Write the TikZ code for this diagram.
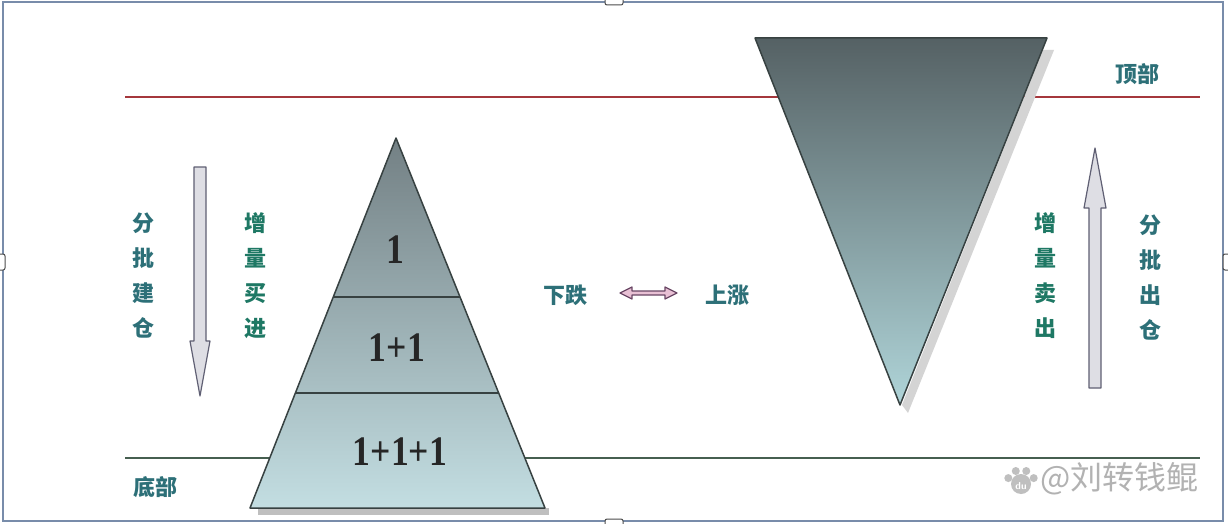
\documentclass[tikz,border=0pt]{standalone}
\usepackage{fontspec}
\setmainfont{Liberation Serif}
\newfontfamily\cjk{Noto Sans CJK SC}
\usetikzlibrary{calc}
\definecolor{framec}{RGB}{120,140,170}
\definecolor{redl}{RGB}{165,55,60}
\definecolor{greenl}{RGB}{70,95,80}
\definecolor{tealt}{RGB}{45,112,120}
\definecolor{greent}{RGB}{30,120,100}
\definecolor{edgec}{RGB}{55,65,65}
\definecolor{pyrtop}{RGB}{115,128,132}
\definecolor{pyrbot}{RGB}{195,222,226}
\definecolor{invtop}{RGB}{85,97,100}
\definecolor{invbot}{RGB}{175,212,216}
\definecolor{arrowfill}{RGB}{222,222,228}
\definecolor{arrowedge}{RGB}{95,95,115}
\definecolor{pinkfill}{RGB}{232,192,212}
\definecolor{pinkedge}{RGB}{105,70,100}
\tikzset{
  num/.style={font={\fontsize{42}{42}\selectfont\bfseries}, text=black!85, inner sep=0pt, xscale=0.85},
  lab/.style={font={\cjk\bfseries\fontsize{22}{22}\selectfont}, inner sep=0pt},
  vlab/.style={font={\cjk\bfseries\fontsize{22}{35}\selectfont}, inner sep=0pt, align=center},
  blockarrow/.style={fill=arrowfill, draw=arrowedge, line width=1.2pt, line join=round},
  handle/.style={fill=white, draw=black!70, line width=1pt, rounded corners=2pt}
}
\begin{document}
\begin{tikzpicture}[x=1pt,y=-1pt]
\useasboundingbox (0,0) rectangle (1228,524);
\fill[white] (0,0) rectangle (1228,524);
% frame
\draw[framec, line width=1.5pt] (3,2) rectangle (1223,521);
\draw[handle] (605,-3) rectangle (623,5);
\draw[handle] (605,519) rectangle (623,527);
\draw[handle] (-3,254) rectangle (5,270);
\draw[handle] (1223,254) rectangle (1231,270);
% reference lines
\coordinate (rl) at (125,97); \coordinate (rr) at (1200,97);
\coordinate (gl) at (125,458); \coordinate (gr) at (1200,458);
\draw[redl, line width=2.6pt] (rl) -- (rr);
\draw[greenl, line width=2.6pt] (gl) -- (gr);
% inverted triangle
\coordinate (itl) at (755,38); \coordinate (itr) at (1047,38); \coordinate (itb) at (900,405);
\fill[black!17] (1043,50) -- (1054,50) -- (908,413) -- (902,405) -- cycle;
\shade[top color=invtop, bottom color=invbot] (itl) -- (itr) -- (itb) -- cycle;
\draw[edgec, line width=1.5pt, line join=round] (itl) -- (itr) -- (itb) -- cycle;
% pyramid
\coordinate (apex) at (396,138); \coordinate (bl) at (250,508); \coordinate (br) at (545,508);
\fill[black!25] (258,508) rectangle (549,515);
\shade[top color=pyrtop, bottom color=pyrbot] (apex) -- (br) -- (bl) -- cycle;
\coordinate (d1l) at ($(apex)!0.43!(bl)$); \coordinate (d1r) at ($(apex)!0.43!(br)$);
\coordinate (d2l) at ($(apex)!0.689!(bl)$); \coordinate (d2r) at ($(apex)!0.689!(br)$);
\draw[edgec, line width=1.5pt] (d1l) -- (d1r);
\draw[edgec, line width=1.5pt] (d2l) -- (d2r);
\draw[edgec, line width=1.5pt, line join=round] (apex) -- (br) -- (bl) -- cycle;
\node[num] (n1) at (395,250) {1};
\node[num] (n2) at (397,348) {1+1};
\node[num] (n3) at (400,452) {1+1+1};
% left down arrow
\draw[blockarrow] (194,167) -- (206,167) -- (206,341) -- (210,341) -- (200,396) -- (190,341) -- (194,341) -- cycle;
% right up arrow
\draw[blockarrow] (1089,388) -- (1101,388) -- (1101,208) -- (1106,208) -- (1095,148) -- (1084,208) -- (1089,208) -- cycle;
% middle double arrow
\draw[fill=pinkfill, draw=pinkedge, line width=1.2pt, line join=round] (620,293) -- (632,287) -- (632,291) -- (665,291) -- (665,287) -- (677,293) -- (665,299) -- (665,295) -- (632,295) -- (632,299) -- cycle;
% labels
\node[lab, text=tealt] (down) at (565,295) {下跌};
\node[lab, text=tealt] (up) at (727,295) {上涨};
\node[lab, text=tealt] (top) at (1137,74) {顶部};
\node[lab, text=tealt] (bottom) at (155,487) {底部};
\node[vlab, text=tealt] (lbuild) at (143,276) {分\\批\\建\\仓};
\node[vlab, text=greent] (lbuy) at (255,276) {增\\量\\买\\进};
\node[vlab, text=greent] (rsell) at (1045,276) {增\\量\\卖\\出};
\node[vlab, text=tealt] (rout) at (1150,278) {分\\批\\出\\仓};
% watermark
\node[font={\cjk\fontsize{32}{32}\selectfont}, text=black!30, inner sep=0pt, anchor=west] (wm) at (1040,479) {@刘转钱鲲};
\fill[black!25] (1021,484) circle (10);
\foreach \a in {-155,-112,-68,-25} \fill[black!25] ($(1021,484)+(\a:14)$) circle (4);
\node[font={\sffamily\bfseries\fontsize{10}{10}\selectfont}, text=white, inner sep=0pt] (du) at (1021,486) {du};
\end{tikzpicture}
\end{document}
